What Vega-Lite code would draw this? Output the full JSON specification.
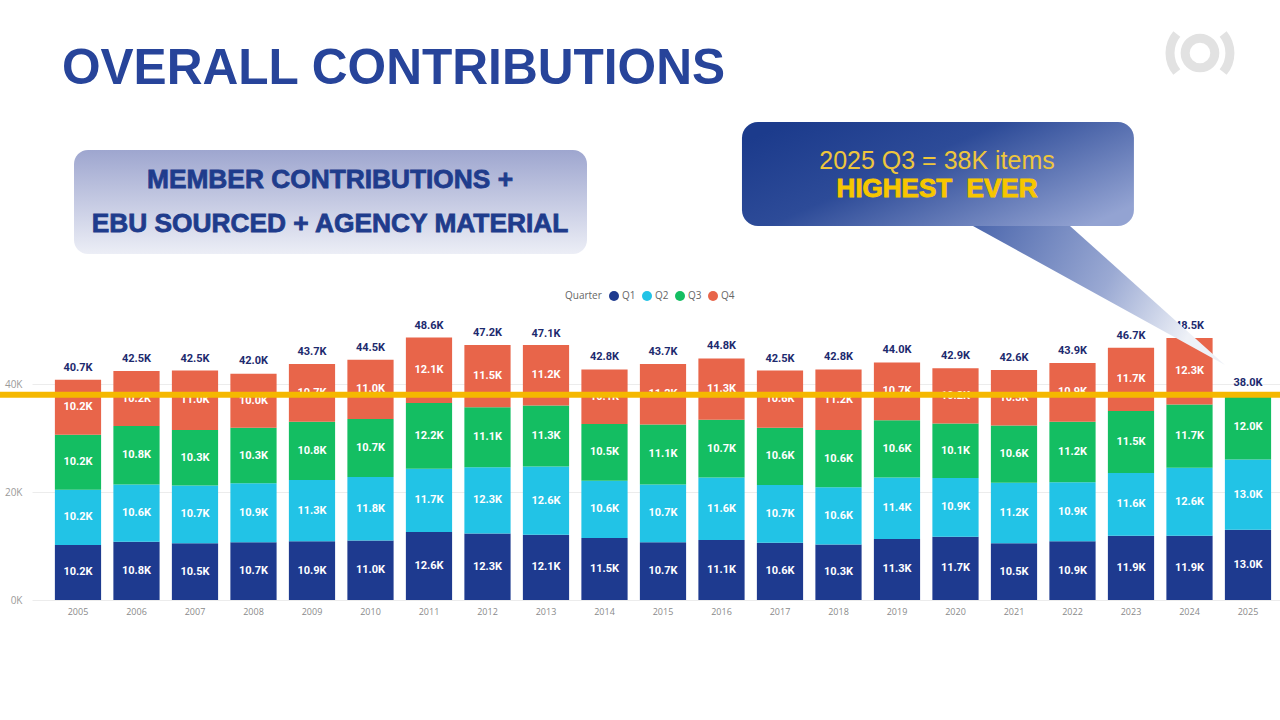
{
  "$schema": "https://vega.github.io/schema/vega-lite/v6.json",
  "autosize": "none",
  "width": 1248,
  "height": 270,
  "padding": {"left": 32, "top": 330, "right": 0, "bottom": 120},
  "background": "white",
  "config": {"view": {"stroke": null}},
  "datasets": {
    "quarters": [
      {"year": "2005", "quarter": "Q1", "items": 10200}, {"year": "2005", "quarter": "Q2", "items": 10200}, {"year": "2005", "quarter": "Q3", "items": 10200}, {"year": "2005", "quarter": "Q4", "items": 10200},
      {"year": "2006", "quarter": "Q1", "items": 10800}, {"year": "2006", "quarter": "Q2", "items": 10600}, {"year": "2006", "quarter": "Q3", "items": 10800}, {"year": "2006", "quarter": "Q4", "items": 10200},
      {"year": "2007", "quarter": "Q1", "items": 10500}, {"year": "2007", "quarter": "Q2", "items": 10700}, {"year": "2007", "quarter": "Q3", "items": 10300}, {"year": "2007", "quarter": "Q4", "items": 11000},
      {"year": "2008", "quarter": "Q1", "items": 10700}, {"year": "2008", "quarter": "Q2", "items": 10900}, {"year": "2008", "quarter": "Q3", "items": 10300}, {"year": "2008", "quarter": "Q4", "items": 10000},
      {"year": "2009", "quarter": "Q1", "items": 10900}, {"year": "2009", "quarter": "Q2", "items": 11300}, {"year": "2009", "quarter": "Q3", "items": 10800}, {"year": "2009", "quarter": "Q4", "items": 10700},
      {"year": "2010", "quarter": "Q1", "items": 11000}, {"year": "2010", "quarter": "Q2", "items": 11800}, {"year": "2010", "quarter": "Q3", "items": 10700}, {"year": "2010", "quarter": "Q4", "items": 11000},
      {"year": "2011", "quarter": "Q1", "items": 12600}, {"year": "2011", "quarter": "Q2", "items": 11700}, {"year": "2011", "quarter": "Q3", "items": 12200}, {"year": "2011", "quarter": "Q4", "items": 12100},
      {"year": "2012", "quarter": "Q1", "items": 12300}, {"year": "2012", "quarter": "Q2", "items": 12300}, {"year": "2012", "quarter": "Q3", "items": 11100}, {"year": "2012", "quarter": "Q4", "items": 11500},
      {"year": "2013", "quarter": "Q1", "items": 12100}, {"year": "2013", "quarter": "Q2", "items": 12600}, {"year": "2013", "quarter": "Q3", "items": 11300}, {"year": "2013", "quarter": "Q4", "items": 11200},
      {"year": "2014", "quarter": "Q1", "items": 11500}, {"year": "2014", "quarter": "Q2", "items": 10600}, {"year": "2014", "quarter": "Q3", "items": 10500}, {"year": "2014", "quarter": "Q4", "items": 10100},
      {"year": "2015", "quarter": "Q1", "items": 10700}, {"year": "2015", "quarter": "Q2", "items": 10700}, {"year": "2015", "quarter": "Q3", "items": 11100}, {"year": "2015", "quarter": "Q4", "items": 11200},
      {"year": "2016", "quarter": "Q1", "items": 11100}, {"year": "2016", "quarter": "Q2", "items": 11600}, {"year": "2016", "quarter": "Q3", "items": 10700}, {"year": "2016", "quarter": "Q4", "items": 11300},
      {"year": "2017", "quarter": "Q1", "items": 10600}, {"year": "2017", "quarter": "Q2", "items": 10700}, {"year": "2017", "quarter": "Q3", "items": 10600}, {"year": "2017", "quarter": "Q4", "items": 10600},
      {"year": "2018", "quarter": "Q1", "items": 10300}, {"year": "2018", "quarter": "Q2", "items": 10600}, {"year": "2018", "quarter": "Q3", "items": 10600}, {"year": "2018", "quarter": "Q4", "items": 11200},
      {"year": "2019", "quarter": "Q1", "items": 11300}, {"year": "2019", "quarter": "Q2", "items": 11400}, {"year": "2019", "quarter": "Q3", "items": 10600}, {"year": "2019", "quarter": "Q4", "items": 10700},
      {"year": "2020", "quarter": "Q1", "items": 11700}, {"year": "2020", "quarter": "Q2", "items": 10900}, {"year": "2020", "quarter": "Q3", "items": 10100}, {"year": "2020", "quarter": "Q4", "items": 10200},
      {"year": "2021", "quarter": "Q1", "items": 10500}, {"year": "2021", "quarter": "Q2", "items": 11200}, {"year": "2021", "quarter": "Q3", "items": 10600}, {"year": "2021", "quarter": "Q4", "items": 10300},
      {"year": "2022", "quarter": "Q1", "items": 10900}, {"year": "2022", "quarter": "Q2", "items": 10900}, {"year": "2022", "quarter": "Q3", "items": 11200}, {"year": "2022", "quarter": "Q4", "items": 10900},
      {"year": "2023", "quarter": "Q1", "items": 11900}, {"year": "2023", "quarter": "Q2", "items": 11600}, {"year": "2023", "quarter": "Q3", "items": 11500}, {"year": "2023", "quarter": "Q4", "items": 11700},
      {"year": "2024", "quarter": "Q1", "items": 11900}, {"year": "2024", "quarter": "Q2", "items": 12600}, {"year": "2024", "quarter": "Q3", "items": 11700}, {"year": "2024", "quarter": "Q4", "items": 12300},
      {"year": "2025", "quarter": "Q1", "items": 13000}, {"year": "2025", "quarter": "Q2", "items": 13000}, {"year": "2025", "quarter": "Q3", "items": 12000}
    ],
    "totals": [
      {"year": "2005", "total": 40700}, {"year": "2006", "total": 42500}, {"year": "2007", "total": 42500},
      {"year": "2008", "total": 42000}, {"year": "2009", "total": 43700}, {"year": "2010", "total": 44500},
      {"year": "2011", "total": 48600}, {"year": "2012", "total": 47200}, {"year": "2013", "total": 47100},
      {"year": "2014", "total": 42800}, {"year": "2015", "total": 43700}, {"year": "2016", "total": 44800},
      {"year": "2017", "total": 42500}, {"year": "2018", "total": 42800}, {"year": "2019", "total": 44000},
      {"year": "2020", "total": 42900}, {"year": "2021", "total": 42600}, {"year": "2022", "total": 43900},
      {"year": "2023", "total": 46700}, {"year": "2024", "total": 48500}, {"year": "2025", "total": 38000}
    ]
  },
  "layer": [
    {
      "layer": [
        {
          "data": {"name": "quarters"},
          "transform": [
            {"stack": "items", "groupby": ["year"], "sort": [{"field": "quarter", "order": "ascending"}], "as": ["y0", "y1"]},
            {"calculate": "(datum.y0 + datum.y1) / 2", "as": "mid"},
            {"calculate": "format(datum.items / 1000, '.1f') + 'K'", "as": "label"}
          ],
          "layer": [
            {
              "mark": {"type": "bar"},
              "encoding": {
                "x": {
                  "field": "year", "type": "nominal",
                  "scale": {"paddingInner": 0.21, "paddingOuter": 0.2716, "align": 0.72},
                  "axis": {"title": null, "labelAngle": 0, "ticks": false, "domain": false, "labelPadding": 7, "labelColor": "#8a8a8a", "labelFont": "Open Sans", "labelFontSize": 9}
                },
                "y": {
                  "field": "y0", "type": "quantitative",
                  "scale": {"domain": [0, 50000], "nice": false},
                  "axis": {"title": null, "values": [0, 20000, 40000], "labelExpr": "datum.value / 1000 + 'K'", "ticks": false, "domain": false, "grid": true, "gridColor": "#ececec", "labelPadding": 10, "labelColor": "#9a9a9a", "labelFont": "Open Sans", "labelFontSize": 10}
                },
                "y2": {"field": "y1"},
                "color": {
                  "field": "quarter", "type": "nominal",
                  "scale": {"domain": ["Q1", "Q2", "Q3", "Q4"], "range": ["#1E3A8F", "#22C3E6", "#14BE62", "#E8654A"]},
                  "legend": {
                    "title": "Quarter", "orient": "none", "legendX": 533, "legendY": -40,
                    "direction": "horizontal", "titleOrient": "left", "symbolType": "circle", "symbolSize": 100,
                    "labelOffset": 2, "columnPadding": 5, "titlePadding": 6,
                    "titleFont": "Open Sans", "titleFontSize": 10, "titleFontWeight": "normal", "titleColor": "#666666",
                    "labelFont": "Open Sans", "labelFontSize": 10, "labelColor": "#666666"
                  }
                }
              }
            },
            {
              "mark": {"type": "text", "color": "white", "font": "Roboto", "fontWeight": "bold", "fontSize": 11, "baseline": "middle"},
              "encoding": {
                "x": {"field": "year", "type": "nominal"},
                "y": {"field": "mid", "type": "quantitative"},
                "text": {"field": "label"}
              }
            }
          ]
        },
        {
          "data": {"name": "totals"},
          "transform": [{"calculate": "format(datum.total / 1000, '.1f') + 'K'", "as": "label"}],
          "mark": {"type": "text", "color": "#1d2a6e", "font": "Roboto", "fontWeight": "bold", "fontSize": 11, "baseline": "middle", "dy": -12},
          "encoding": {
            "x": {"field": "year", "type": "nominal"},
            "y": {"field": "total", "type": "quantitative"},
            "text": {"field": "label"}
          }
        }
      ]
    },
    {
      "data": {"values": [{}]},
      "layer": [
        {
          "mark": {"type": "rule", "color": "#F5B800", "strokeWidth": 6},
          "encoding": {
            "x": {"datum": 2003.667, "type": "quantitative", "scale": {"domain": [2004.214, 2025.547], "nice": false, "zero": false}, "axis": null},
            "x2": {"datum": 2025.547},
            "y": {"datum": 38000, "type": "quantitative"}
          }
        },
        {
          "mark": {
            "type": "point", "filled": true, "strokeWidth": 0, "opacity": 1, "size": 63504,
            "shape": "M -1 -0.552 L -0.23 -0.552 L 1 0.552 Z",
            "fill": {"gradient": "linear", "x1": 0, "y1": 0, "x2": 1, "y2": 0.3, "stops": [{"offset": 0, "color": "#4c67ad"}, {"offset": 0.6, "color": "#9aa9d3"}, {"offset": 1, "color": "#eef1f7"}]}
          },
          "encoding": {
            "x": {"datum": 2022.453, "type": "quantitative", "axis": null},
            "y": {"datum": 56390, "type": "quantitative"}
          }
        },
        {
          "mark": {
            "type": "rect", "cornerRadius": 16,
            "fill": {"gradient": "linear", "x1": 0, "y1": 0.2, "x2": 1, "y2": 0.8, "stops": [{"offset": 0, "color": "#1c3b8c"}, {"offset": 0.4, "color": "#2d4b98"}, {"offset": 1, "color": "#93a3d2"}]}
          },
          "encoding": {
            "x": {"datum": 2016.35, "type": "quantitative", "axis": null},
            "x2": {"datum": 2023.05},
            "y": {"datum": 88520, "type": "quantitative"},
            "y2": {"datum": 69260}
          }
        },
        {
          "mark": {
            "type": "rect", "cornerRadius": 14,
            "fill": {"gradient": "linear", "x1": 0, "y1": 0, "x2": 0, "y2": 1, "stops": [{"offset": 0, "color": "#9ea6cf"}, {"offset": 1, "color": "#eceef6"}]}
          },
          "encoding": {
            "x": {"datum": 2004.932, "type": "quantitative", "axis": null},
            "x2": {"datum": 2013.701},
            "y": {"datum": 83330, "type": "quantitative"},
            "y2": {"datum": 64070}
          }
        },
        {
          "mark": {"type": "text", "text": "MEMBER CONTRIBUTIONS +", "font": "Liberation Sans", "fontWeight": "bold", "fontSize": 26.3, "color": "#1f3c8c", "stroke": "#1f3c8c", "strokeWidth": 0.8, "align": "center", "baseline": "alphabetic"},
          "encoding": {
            "x": {"datum": 2009.308, "type": "quantitative", "axis": null},
            "y": {"datum": 76296, "type": "quantitative"}
          }
        },
        {
          "mark": {"type": "text", "text": "EBU SOURCED + AGENCY MATERIAL", "font": "Liberation Sans", "fontWeight": "bold", "fontSize": 26.3, "color": "#1f3c8c", "stroke": "#1f3c8c", "strokeWidth": 0.8, "align": "center", "baseline": "alphabetic"},
          "encoding": {
            "x": {"datum": 2009.308, "type": "quantitative", "axis": null},
            "y": {"datum": 68148, "type": "quantitative"}
          }
        },
        {
          "mark": {"type": "text", "text": "2025 Q3 = 38K items", "font": "Liberation Sans", "fontSize": 25, "color": "#eec63c", "align": "center", "baseline": "alphabetic"},
          "encoding": {
            "x": {"datum": 2019.684, "type": "quantitative", "axis": null},
            "y": {"datum": 79815, "type": "quantitative"}
          }
        },
        {
          "mark": {"type": "text", "text": "HIGHEST\u00a0 EVER", "font": "Liberation Sans", "fontWeight": "bold", "fontSize": 26, "color": "#f7c600", "stroke": "#f7c600", "strokeWidth": 0.9, "align": "center", "baseline": "alphabetic"},
          "encoding": {
            "x": {"datum": 2019.684, "type": "quantitative", "axis": null},
            "y": {"datum": 74630, "type": "quantitative"}
          }
        },
        {
          "mark": {"type": "text", "text": "OVERALL CONTRIBUTIONS", "font": "Liberation Sans", "fontWeight": "bold", "fontSize": 49.6, "color": "#27449a", "align": "left", "baseline": "alphabetic"},
          "encoding": {
            "x": {"datum": 2004.726, "type": "quantitative", "axis": null},
            "y": {"datum": 95556, "type": "quantitative"}
          }
        },
        {
          "mark": {
            "type": "point", "filled": false, "stroke": "#e2e2e2", "strokeWidth": 9, "opacity": 1, "size": 5776,
            "shape": "M 0.39 0 A 0.39 0.39 0 1 1 -0.39 0 A 0.39 0.39 0 1 1 0.39 0 Z M -0.61 -0.5 A 0.79 0.79 0 0 0 -0.61 0.5 M 0.61 -0.5 A 0.79 0.79 0 0 1 0.61 0.5"
          },
          "encoding": {
            "x": {"datum": 2024.179, "type": "quantitative", "axis": null},
            "y": {"datum": 101300, "type": "quantitative"}
          }
        }
      ]
    }
  ],
  "resolve": {"scale": {"x": "independent"}}
}
